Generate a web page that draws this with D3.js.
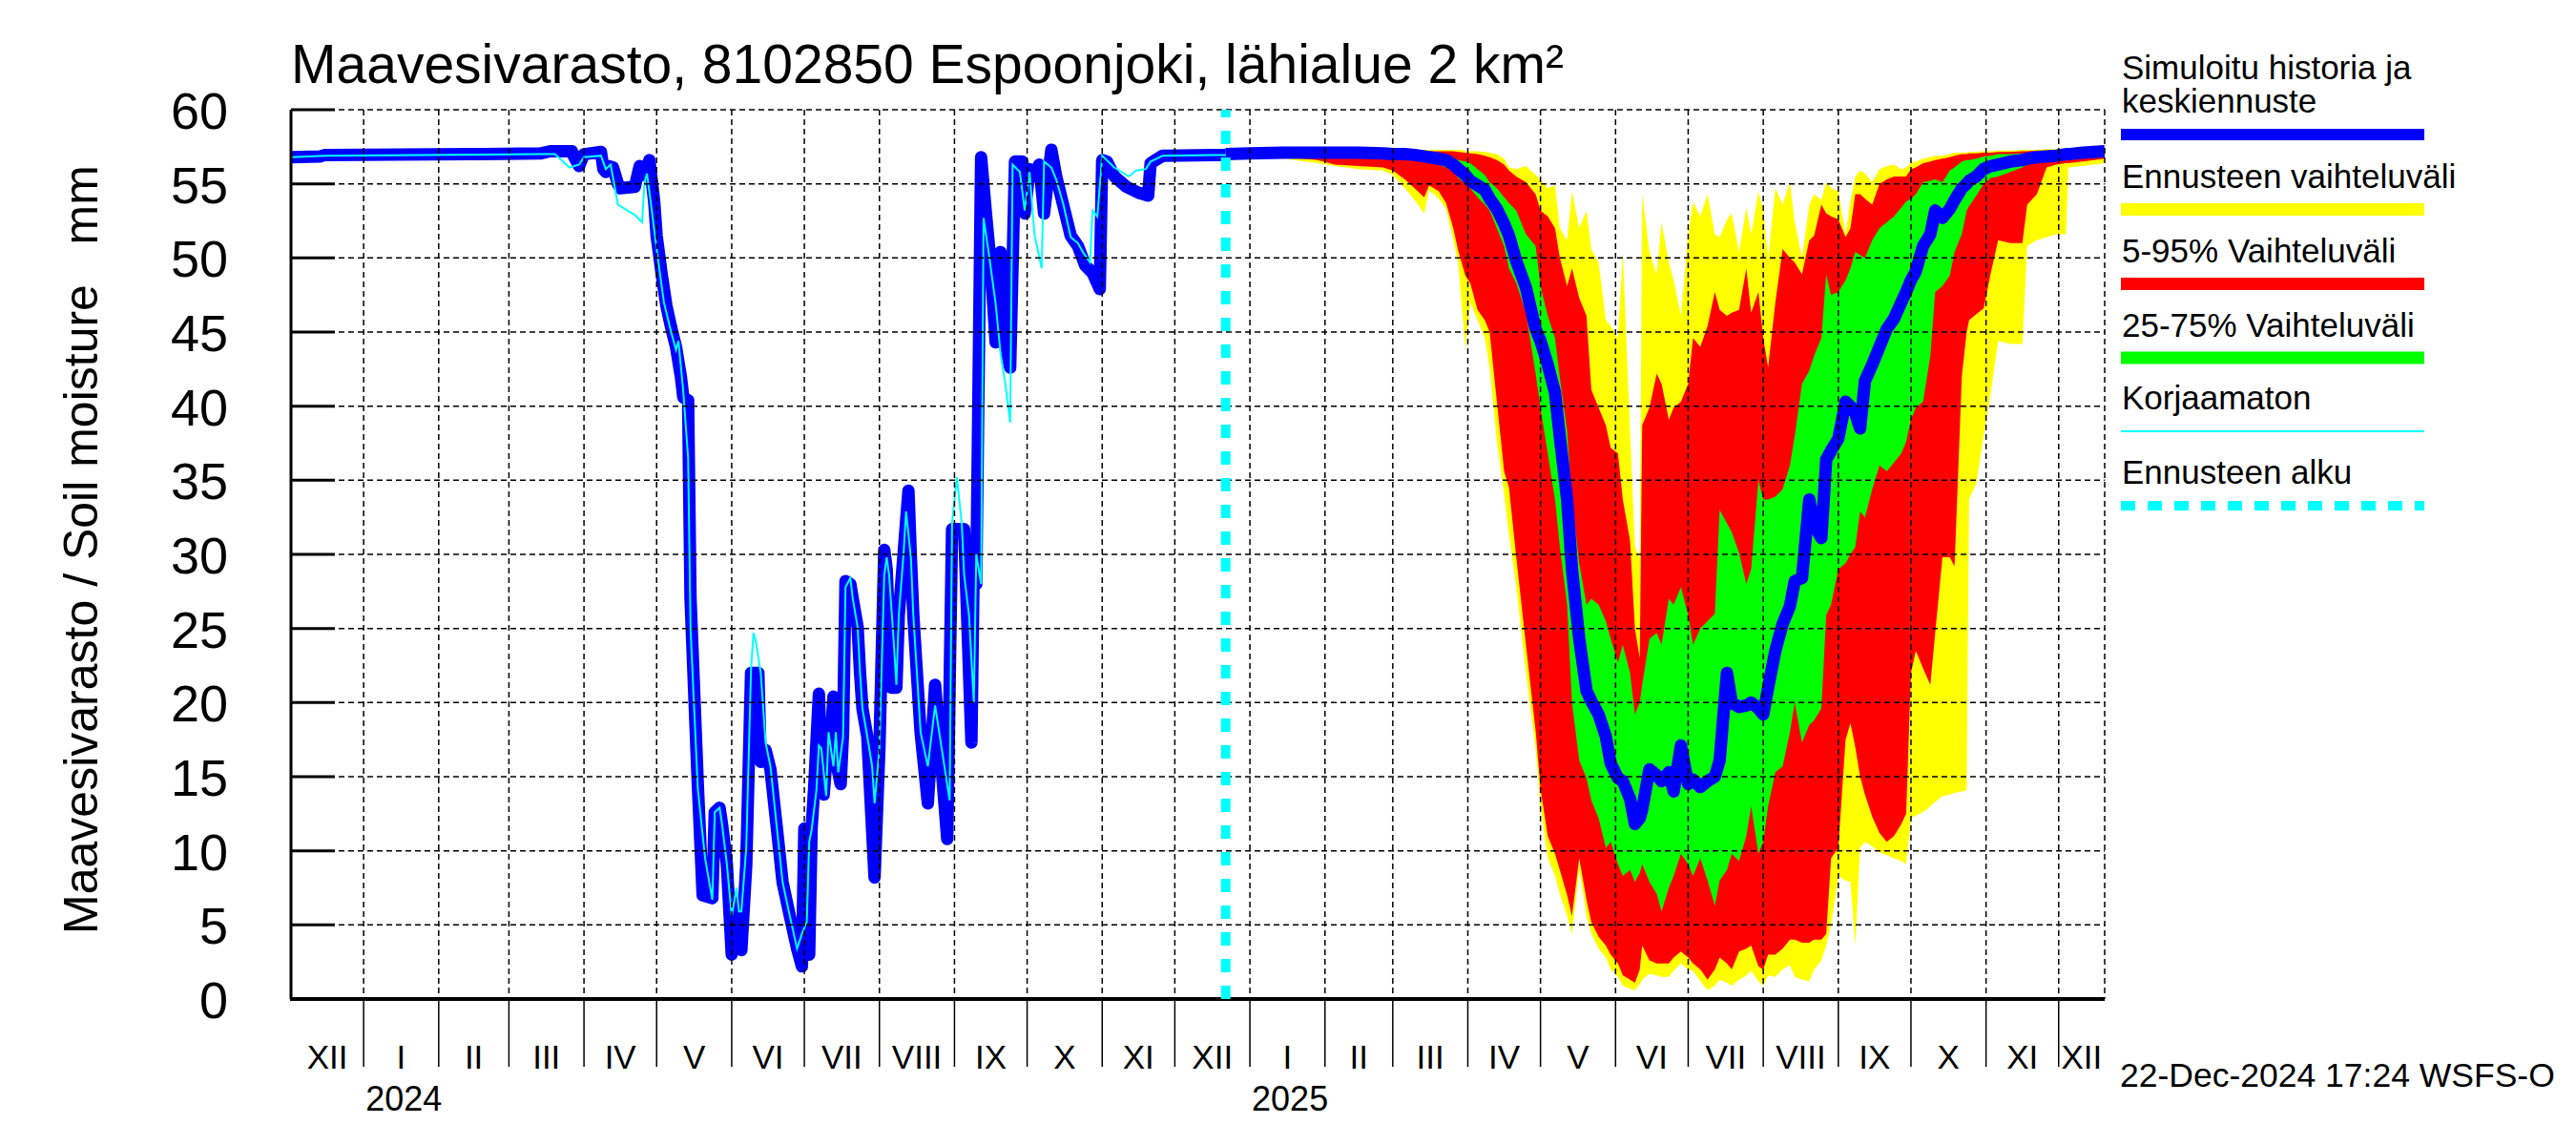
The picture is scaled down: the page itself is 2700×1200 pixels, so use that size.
<!DOCTYPE html>
<html>
<head>
<meta charset="utf-8">
<script src="https://cdn.jsdelivr.net/npm/d3@7"></script>
<style>
  html, body { margin: 0; padding: 0; background: #fff; }
  svg { display: block; }
  text { font-family: "Liberation Sans", Arial, Helvetica, sans-serif; fill: #000; }
</style>
</head>
<body>
<svg id="chart" width="2700" height="1200"></svg>
<script>
// simulated history (thick blue), date / mm
var simHistory = [
  ["2023-12-02", 56.8], ["2023-12-14", 56.85], ["2023-12-16", 56.95], ["2024-02-14", 57.0],
  ["2024-03-14", 57.05], ["2024-03-18", 57.2], ["2024-03-27", 57.2], ["2024-03-28", 56.8],
  ["2024-03-30", 56.2], ["2024-04-01", 57.0], ["2024-04-08", 57.15], ["2024-04-09", 56.0],
  ["2024-04-10", 55.8], ["2024-04-11", 56.2], ["2024-04-13", 56.1], ["2024-04-15", 55.0],
  ["2024-04-16", 54.7], ["2024-04-22", 54.8], ["2024-04-24", 56.2], ["2024-04-26", 55.6],
  ["2024-04-28", 56.6], ["2024-04-30", 53.8], ["2024-05-01", 51.5], ["2024-05-03", 49.0],
  ["2024-05-05", 46.8], ["2024-05-07", 45.3], ["2024-05-09", 44.0], ["2024-05-11", 42.0],
  ["2024-05-12", 40.6], ["2024-05-14", 40.4], ["2024-05-15", 27.0], ["2024-05-18", 14.5],
  ["2024-05-20", 7.0], ["2024-05-24", 6.8], ["2024-05-25", 12.6], ["2024-05-27", 12.9],
  ["2024-05-28", 11.8], ["2024-05-30", 9.1], ["2024-06-01", 3.0], ["2024-06-03", 6.5],
  ["2024-06-04", 4.8], ["2024-06-05", 3.3], ["2024-06-07", 9.0], ["2024-06-09", 22.0],
  ["2024-06-12", 22.0], ["2024-06-13", 16.0], ["2024-06-15", 16.8], ["2024-06-17", 15.5],
  ["2024-06-20", 11.0], ["2024-06-22", 7.9], ["2024-06-25", 5.6], ["2024-06-28", 3.4],
  ["2024-06-30", 2.2], ["2024-07-01", 11.5], ["2024-07-03", 3.0], ["2024-07-04", 11.5],
  ["2024-07-05", 14.1], ["2024-07-07", 20.6], ["2024-07-08", 16.0], ["2024-07-09", 13.8],
  ["2024-07-11", 18.0], ["2024-07-12", 17.5], ["2024-07-13", 20.4], ["2024-07-14", 16.5],
  ["2024-07-15", 15.3], ["2024-07-16", 14.5], ["2024-07-17", 18.0], ["2024-07-18", 28.2],
  ["2024-07-20", 28.0], ["2024-07-21", 27.0], ["2024-07-23", 25.1], ["2024-07-24", 22.0],
  ["2024-07-25", 19.6], ["2024-07-27", 17.7], ["2024-07-28", 14.5], ["2024-07-30", 8.2],
  ["2024-08-01", 16.9], ["2024-08-03", 30.3], ["2024-08-04", 29.0], ["2024-08-06", 21.0],
  ["2024-08-08", 21.0], ["2024-08-09", 25.9], ["2024-08-11", 30.1], ["2024-08-13", 34.3],
  ["2024-08-14", 29.8], ["2024-08-15", 25.9], ["2024-08-18", 18.0], ["2024-08-21", 13.2],
  ["2024-08-24", 21.2], ["2024-08-29", 10.8], ["2024-08-31", 31.7], ["2024-09-05", 31.7],
  ["2024-09-08", 17.3], ["2024-09-09", 30.0], ["2024-09-10", 28.0], ["2024-09-12", 56.8],
  ["2024-09-14", 53.0], ["2024-09-16", 49.5], ["2024-09-18", 44.3], ["2024-09-20", 50.4],
  ["2024-09-22", 44.0], ["2024-09-24", 42.6], ["2024-09-26", 56.5], ["2024-09-29", 56.5],
  ["2024-09-30", 53.0], ["2024-10-02", 56.0], ["2024-10-04", 55.5], ["2024-10-06", 56.3],
  ["2024-10-08", 53.0], ["2024-10-11", 57.3], ["2024-10-13", 55.5], ["2024-10-16", 53.5],
  ["2024-10-19", 51.5], ["2024-10-22", 50.8], ["2024-10-25", 49.5], ["2024-10-28", 49.0],
  ["2024-10-31", 47.9], ["2024-11-01", 56.6], ["2024-11-03", 56.5], ["2024-11-06", 55.5],
  ["2024-11-11", 54.8], ["2024-11-16", 54.4], ["2024-11-20", 54.2], ["2024-11-21", 56.4],
  ["2024-11-26", 56.9], ["2024-12-22", 56.95]
];

// uncorrected simulation (thin cyan)
var uncorrected = [
  ["2023-12-02", 56.8], ["2023-12-16", 56.9], ["2024-03-14", 57.0], ["2024-03-20", 57.0],
  ["2024-03-26", 56.1], ["2024-03-30", 56.3], ["2024-04-01", 56.8], ["2024-04-08", 56.9],
  ["2024-04-10", 56.0], ["2024-04-12", 56.3], ["2024-04-15", 53.6], ["2024-04-22", 52.9],
  ["2024-04-25", 52.4], ["2024-04-26", 55.1], ["2024-04-27", 55.7], ["2024-04-29", 53.2],
  ["2024-05-01", 50.6], ["2024-05-04", 47.0], ["2024-05-07", 45.0], ["2024-05-09", 43.8],
  ["2024-05-10", 44.4], ["2024-05-12", 41.0], ["2024-05-14", 36.5], ["2024-05-15", 25.0],
  ["2024-05-18", 14.2], ["2024-05-21", 9.5], ["2024-05-24", 6.7], ["2024-05-25", 12.6],
  ["2024-05-27", 12.9], ["2024-05-28", 11.8], ["2024-05-30", 9.1], ["2024-06-01", 5.6],
  ["2024-06-03", 7.5], ["2024-06-04", 5.9], ["2024-06-05", 5.9], ["2024-06-07", 10.2],
  ["2024-06-09", 22.3], ["2024-06-10", 24.7], ["2024-06-11", 24.1], ["2024-06-13", 22.0],
  ["2024-06-15", 17.3], ["2024-06-17", 15.7], ["2024-06-20", 11.0], ["2024-06-22", 7.9],
  ["2024-06-25", 5.6], ["2024-06-28", 3.4], ["2024-06-30", 4.4], ["2024-07-02", 5.2],
  ["2024-07-03", 10.6], ["2024-07-04", 11.4], ["2024-07-06", 14.1], ["2024-07-07", 17.1],
  ["2024-07-08", 16.9], ["2024-07-10", 13.7], ["2024-07-11", 18.0], ["2024-07-13", 15.7],
  ["2024-07-14", 18.0], ["2024-07-15", 15.3], ["2024-07-17", 17.7], ["2024-07-18", 27.8],
  ["2024-07-20", 28.4], ["2024-07-21", 27.0], ["2024-07-23", 25.1], ["2024-07-24", 22.0],
  ["2024-07-25", 19.6], ["2024-07-27", 17.7], ["2024-07-29", 15.7], ["2024-07-30", 13.2],
  ["2024-08-01", 16.9], ["2024-08-03", 28.6], ["2024-08-04", 29.8], ["2024-08-05", 28.6],
  ["2024-08-07", 23.9], ["2024-08-08", 21.2], ["2024-08-09", 25.9], ["2024-08-11", 30.1],
  ["2024-08-12", 32.9], ["2024-08-14", 29.8], ["2024-08-15", 25.9], ["2024-08-18", 18.0],
  ["2024-08-21", 15.7], ["2024-08-24", 19.8], ["2024-08-30", 13.4], ["2024-08-31", 32.1],
  ["2024-09-02", 35.2], ["2024-09-04", 32.1], ["2024-09-05", 28.6], ["2024-09-07", 25.9],
  ["2024-09-09", 20.0], ["2024-09-10", 30.0], ["2024-09-12", 28.0], ["2024-09-13", 52.7],
  ["2024-09-15", 50.5], ["2024-09-16", 49.3], ["2024-09-18", 46.9], ["2024-09-20", 43.6],
  ["2024-09-22", 41.5], ["2024-09-24", 38.9], ["2024-09-25", 56.3], ["2024-09-28", 55.8],
  ["2024-09-30", 53.2], ["2024-10-02", 55.8], ["2024-10-04", 51.6], ["2024-10-07", 49.3],
  ["2024-10-08", 56.5], ["2024-10-11", 56.1], ["2024-10-13", 55.3], ["2024-10-16", 53.6],
  ["2024-10-19", 51.4], ["2024-10-22", 51.0], ["2024-10-24", 50.4], ["2024-10-27", 49.7],
  ["2024-10-28", 53.2], ["2024-10-30", 52.8], ["2024-11-01", 56.9], ["2024-11-06", 56.1],
  ["2024-11-12", 55.5], ["2024-11-15", 55.9], ["2024-11-19", 56.0], ["2024-11-21", 56.5],
  ["2024-11-26", 56.9], ["2024-12-22", 56.95]
];

// forecast dates and distribution of the ensemble
var fcDates = [
  "2024-12-22", "2025-01-01", "2025-01-15", "2025-01-29", "2025-02-05", "2025-02-15", "2025-02-25",
  "2025-03-01", "2025-03-06", "2025-03-10", "2025-03-14", "2025-03-16", "2025-03-20", "2025-03-23",
  "2025-03-26", "2025-03-28", "2025-03-31", "2025-04-02", "2025-04-05", "2025-04-08", "2025-04-10",
  "2025-04-13", "2025-04-16", "2025-04-18", "2025-04-21", "2025-04-25", "2025-04-29", "2025-05-01",
  "2025-05-04", "2025-05-07", "2025-05-09", "2025-05-12", "2025-05-14", "2025-05-17", "2025-05-20",
  "2025-05-22", "2025-05-25", "2025-05-28", "2025-05-30", "2025-06-02", "2025-06-04", "2025-06-07",
  "2025-06-09", "2025-06-11", "2025-06-12", "2025-06-15", "2025-06-18", "2025-06-20", "2025-06-23",
  "2025-06-25", "2025-06-28", "2025-07-01", "2025-07-03", "2025-07-06", "2025-07-09", "2025-07-12",
  "2025-07-14", "2025-07-17", "2025-07-19", "2025-07-22", "2025-07-25", "2025-07-27", "2025-07-30",
  "2025-08-01", "2025-08-03", "2025-08-06", "2025-08-09", "2025-08-12", "2025-08-14", "2025-08-17",
  "2025-08-20", "2025-08-22", "2025-08-25", "2025-08-27", "2025-08-29", "2025-09-01", "2025-09-04",
  "2025-09-06", "2025-09-08", "2025-09-10", "2025-09-12", "2025-09-15", "2025-09-18", "2025-09-21",
  "2025-09-24", "2025-09-27", "2025-09-29", "2025-10-01", "2025-10-03", "2025-10-06", "2025-10-09",
  "2025-10-11", "2025-10-14", "2025-10-17", "2025-10-19", "2025-10-22", "2025-10-24", "2025-10-25",
  "2025-10-28", "2025-10-31", "2025-11-03", "2025-11-06", "2025-11-11", "2025-11-16", "2025-11-18",
  "2025-11-22", "2025-11-26", "2025-11-30", "2025-12-04", "2025-12-05", "2025-12-11", "2025-12-20"
];
var fcMax = [
  57.0, 57.2, 57.25, 57.3, 57.3, 57.3, 57.3,
  57.3, 57.3, 57.3, 57.3, 57.3, 57.3, 57.3,
  57.3, 57.3, 57.25, 57.2, 57.2, 57.15, 57.1,
  57.0, 56.7, 56.1, 56.0, 56.2, 55.6, 55.3,
  54.7, 54.9, 52.0, 51.2, 54.5, 52.0, 53.2,
  50.6, 49.7, 45.8, 45.4, 44.6, 50.4, 38.3,
  30.5, 29.8, 54.3, 50.4, 48.9, 52.4, 49.7,
  48.5, 46.1, 51.6, 53.8, 52.8, 54.3, 51.6,
  51.4, 52.6, 53.0, 50.4, 53.4, 51.6, 54.5,
  53.2, 50.0, 54.7, 53.6, 55.1, 52.4, 50.0,
  53.6, 54.3, 53.9, 55.1, 54.7, 54.5, 51.6,
  53.9, 55.5, 55.9, 55.7, 55.1, 56.0, 56.2,
  56.3, 56.0, 56.1, 56.4, 56.5, 56.7, 56.8,
  56.9, 56.9, 57.0, 57.1, 57.1, 57.1, 57.15,
  57.15, 57.2, 57.2, 57.25, 57.25, 57.3, 57.3,
  57.3, 57.35, 57.35, 57.4, 57.4, 57.45, 57.5
];
var fcP95 = [
  57.0, 57.15, 57.2, 57.2, 57.2, 57.2, 57.2,
  57.2, 57.2, 57.2, 57.2, 57.2, 57.2, 57.2,
  57.2, 57.15, 57.1, 57.05, 57.0, 56.9, 56.8,
  56.6, 56.3, 55.9, 55.5, 55.1, 54.3, 53.2,
  52.8, 52.0, 50.0, 48.1, 49.3, 47.3, 46.1,
  41.1, 39.9, 38.7, 37.2, 36.8, 33.7, 30.9,
  25.0, 23.0, 38.7, 39.9, 42.2, 41.5, 39.1,
  39.9, 40.3, 41.5, 44.6, 44.0, 45.4, 47.7,
  46.5, 46.1, 46.3, 46.5, 49.3, 46.3, 47.7,
  44.6, 42.6, 47.0, 50.6, 50.0, 49.7, 48.9,
  51.2, 51.5, 53.6, 53.0, 52.8, 52.6, 51.4,
  52.0, 54.3, 54.3, 54.0, 53.6, 55.0, 55.3,
  55.5, 55.5, 55.5, 56.0, 56.1, 56.4, 56.5,
  56.6, 56.7, 56.8, 56.9, 57.0, 57.0, 57.05,
  57.05, 57.1, 57.1, 57.15, 57.15, 57.2, 57.2,
  57.25, 57.25, 57.3, 57.3, 57.3, 57.35, 57.4
];
var fcP75 = [
  57.0, 57.1, 57.1, 57.15, 57.15, 57.1, 57.1,
  57.1, 57.1, 57.05, 57.0, 57.0, 56.95, 56.9,
  56.8, 56.6, 56.5, 56.4, 56.0, 55.6, 55.1,
  54.7, 54.1, 53.7, 53.2, 51.6, 50.8, 48.1,
  46.1, 44.6, 41.9, 38.3, 33.7, 29.4, 26.6,
  27.0, 26.6, 25.5, 24.3, 22.7, 23.9, 22.0,
  19.2, 20.0, 21.2, 24.3, 24.7, 23.9, 27.0,
  26.6, 27.8, 25.9, 23.9, 25.0, 25.5, 26.0,
  33.0, 32.1, 31.5, 30.1, 28.0, 29.0, 35.0,
  33.7, 33.7, 33.9, 34.4, 36.0, 38.0, 41.5,
  42.4, 43.4, 44.6, 48.9, 47.5, 47.7, 48.5,
  49.3, 50.4, 50.2, 50.0, 51.2, 52.0, 52.4,
  52.8, 53.4, 53.8, 54.0, 54.3, 55.1, 55.2,
  55.3, 55.1, 55.9, 56.1, 56.5, 56.6, 56.6,
  56.7, 56.85, 56.9, 57.0, 57.0, 57.05, 57.1,
  57.1, 57.1, 57.15, 57.2, 57.2, 57.25, 57.3
];
var fcMedian = [
  57.0, 57.05, 57.1, 57.1, 57.1, 57.1, 57.05,
  57.0, 57.0, 56.95, 56.85, 56.8, 56.7, 56.6,
  56.3, 56.0, 55.6, 55.2, 54.9, 54.6, 54.0,
  53.3, 52.3, 51.5, 49.8, 48.0, 45.2, 44.4,
  42.8, 40.9, 37.9, 33.7, 29.0, 24.3, 20.8,
  20.1, 19.2, 17.7, 15.9, 14.9, 14.7, 13.5,
  11.8, 12.2, 12.8, 15.5, 15.1, 14.7, 15.3,
  14.0, 17.1, 14.5, 14.8, 14.3, 14.7, 15.0,
  16.1, 22.0, 20.0, 19.7, 19.8, 20.0, 19.6,
  19.2, 21.0, 23.5, 25.3, 26.5, 28.2, 28.4,
  33.7, 32.0, 31.1, 36.4, 37.0, 37.8, 40.3,
  40.0, 39.5, 38.5, 41.7, 42.8, 44.0, 45.2,
  45.9, 47.0, 47.7, 48.5, 49.1, 50.8, 51.6,
  53.2, 52.7, 53.3, 53.9, 54.7, 55.0, 55.2,
  55.5, 56.0, 56.2, 56.3, 56.5, 56.6, 56.7,
  56.8, 56.85, 56.9, 57.0, 57.0, 57.1, 57.2
];
var fcP25 = [
  57.0, 57.0, 57.0, 57.0, 57.0, 56.95, 56.9,
  56.85, 56.75, 56.6, 56.5, 56.45, 56.3, 56.1,
  55.8, 55.4, 55.0, 54.7, 54.1, 53.6, 53.2,
  52.0, 50.8, 49.3, 48.3, 46.3, 42.2, 39.9,
  36.8, 33.7, 30.5, 26.6, 20.0, 16.1, 14.9,
  13.4, 12.2, 10.2, 10.6, 9.1, 8.3, 8.7,
  7.9, 8.5, 9.1, 7.9, 7.1, 5.9, 7.5,
  8.3, 9.8, 9.1, 8.3, 9.5, 8.0, 6.3,
  8.0, 8.7, 9.8, 9.3, 11.0, 13.0, 9.8,
  10.6, 13.0, 15.3, 15.7, 18.0, 20.0, 17.3,
  18.5, 18.8, 19.6, 25.9, 26.6, 29.0, 29.4,
  30.0, 30.5, 32.9, 32.5, 34.4, 36.0, 35.6,
  36.2, 36.8, 37.6, 39.1, 39.9, 40.3, 43.4,
  47.7, 48.1, 48.8, 50.4, 51.6, 53.2, 53.5,
  54.2, 55.0, 55.4, 55.5, 55.8, 56.1, 56.3,
  56.5, 56.6, 56.7, 56.8, 56.8, 56.9, 57.0
];
var fcP05 = [
  57.0, 56.9, 56.8, 56.6, 56.3, 56.2, 56.1,
  55.9, 55.3, 54.7, 54.1, 54.9, 54.5, 53.7,
  52.0, 50.5, 48.8, 48.3, 46.5, 45.8, 45.0,
  40.3, 35.6, 34.5, 29.8, 23.9, 18.1, 14.2,
  11.0, 9.8, 8.7, 7.0, 5.6, 9.5, 6.7,
  5.2, 4.2, 3.6, 3.0, 2.4, 1.6, 1.3,
  1.1, 2.0, 3.6, 2.6, 2.4, 2.4, 2.4,
  2.8, 3.2, 2.8, 2.4, 2.0, 1.3, 2.0,
  2.8, 2.4, 2.0, 3.2, 3.4, 3.6, 2.2,
  2.0, 3.0, 3.0, 3.4, 4.0, 4.0, 3.8,
  3.8, 4.0, 4.0, 4.4, 9.5, 10.2, 17.5,
  18.6, 17.0, 15.0, 13.8, 12.3, 11.2, 10.6,
  11.0, 11.8, 12.5, 22.0, 23.5, 22.3, 21.2,
  24.7, 29.8, 29.8, 29.2, 42.0, 45.0, 45.8,
  46.2, 46.6, 49.0, 51.2, 51.0, 51.0, 53.6,
  54.3, 56.1, 56.3, 56.4, 56.4, 56.5, 56.7
];
var fcMin = [
  57.0, 56.85, 56.7, 56.4, 56.2, 56.0, 55.9,
  55.6, 54.7, 53.9, 53.0, 54.6, 54.0, 53.3,
  51.2, 49.7, 43.8, 47.0, 45.8, 44.6, 42.6,
  37.6, 34.0, 31.3, 27.8, 22.0, 16.9, 13.0,
  9.5, 8.3, 7.1, 5.6, 4.4, 8.7, 5.6,
  4.4, 3.4, 2.8, 2.0, 1.5, 0.9, 0.7,
  0.6, 1.0, 1.3, 1.7, 1.6, 1.5, 1.5,
  1.9, 2.4, 2.0, 1.9, 1.2, 0.6, 0.9,
  1.3, 1.1, 0.9, 1.3, 1.6, 1.9, 1.2,
  0.9, 1.6, 1.5, 2.0, 2.3, 1.5, 1.3,
  1.2, 2.0, 2.6, 3.6, 5.0, 8.3, 8.0,
  7.9, 3.6, 10.2, 10.6, 10.3, 9.9, 9.7,
  9.5, 9.3, 9.1, 12.2, 12.4, 12.6, 13.0,
  13.3, 13.7, 13.8, 13.9, 14.0, 14.1, 33.7,
  34.8, 38.0, 41.0, 44.4, 44.2, 44.2, 50.8,
  51.2, 51.4, 51.6, 51.6, 56.1, 56.2, 56.4
];

var forecastStart = "2024-12-22";
var yTicks = [0, 5, 10, 15, 20, 25, 30, 35, 40, 45, 50, 55, 60];
var monthNames = ["I", "II", "III", "IV", "V", "VI", "VII", "VIII", "IX", "X", "XI", "XII"];
var legendLabels = [
  ["Simuloitu historia ja", "keskiennuste"],
  ["Ennusteen vaihteluväli"],
  ["5-95% Vaihteluväli"],
  ["25-75% Vaihteluväli"],
  ["Korjaamaton"],
  ["Ennusteen alku"]
];
var titleText = "Maavesivarasto, 8102850 Espoonjoki, lähialue 2 km²";
var yTitle = "Maavesivarasto / Soil moisture   mm";
var stamp = "22-Dec-2024 17:24 WSFS-O";

// ---------------------------------------------------------------
var W = 2700, H = 1200;
var plotLeft = 305, plotRight = 2206, plotTop = 115, plotBottom = 1047;

var parseDate = d3.utcParse("%Y-%m-%d");
var x = d3.scaleUtc()
    .domain([parseDate("2023-12-02"), parseDate("2025-12-20")])
    .range([plotLeft, plotRight]);
var y = d3.scaleLinear().domain([0, 60]).range([plotBottom, plotTop]);

var hist = simHistory.map(function(d) { return {date: parseDate(d[0]), value: d[1]}; });
var corr = uncorrected.map(function(d) { return {date: parseDate(d[0]), value: d[1]}; });
var fc = fcDates.map(function(d, i) {
  return {date: parseDate(d), max: fcMax[i], p95: fcP95[i], p75: fcP75[i],
          med: fcMedian[i], p25: fcP25[i], p05: fcP05[i], min: fcMin[i]};
});

var svg = d3.select("#chart");
svg.append("rect").attr("width", W).attr("height", H).attr("fill", "#fff");

svg.append("defs").append("clipPath").attr("id", "plotclip")
  .append("rect").attr("x", plotLeft).attr("y", plotTop - 2)
  .attr("width", plotRight - plotLeft).attr("height", plotBottom - plotTop + 2);

var plot = svg.append("g").attr("clip-path", "url(#plotclip)");

var band = function(lo, hi) {
  return d3.area()
    .x(function(d) { return x(d.date); })
    .y0(function(d) { return y(d[lo]); })
    .y1(function(d) { return y(d[hi]); });
};
var line = function(key) {
  return d3.line()
    .x(function(d) { return x(d.date); })
    .y(function(d) { return y(d[key]); });
};

plot.append("path").datum(fc).attr("d", band("min", "max")).attr("fill", "#ffff00");
plot.append("path").datum(fc).attr("d", band("p05", "p95")).attr("fill", "#ff0000");
plot.append("path").datum(fc).attr("d", band("p25", "p75")).attr("fill", "#00ff00");

plot.append("path").datum(fc).attr("d", line("med"))
    .attr("fill", "none").attr("stroke", "#0000ff").attr("stroke-width", 13)
    .attr("stroke-linejoin", "round");
plot.append("path").datum(hist).attr("d", line("value"))
    .attr("fill", "none").attr("stroke", "#0000ff").attr("stroke-width", 13)
    .attr("stroke-linejoin", "round");
plot.append("path").datum(corr).attr("d", line("value"))
    .attr("fill", "none").attr("stroke", "#00ffff").attr("stroke-width", 2);

// grid
var grid = svg.append("g")
    .attr("stroke", "#000").attr("stroke-width", 1.5).attr("stroke-dasharray", "6,4");
var months = d3.utcMonth.range(d3.utcMonth.ceil(x.domain()[0]), x.domain()[1]);
grid.selectAll("line.v").data(months).enter().append("line")
    .attr("x1", function(d) { return x(d); }).attr("x2", function(d) { return x(d); })
    .attr("y1", plotTop).attr("y2", plotBottom);
grid.append("line").attr("x1", plotRight).attr("x2", plotRight)
    .attr("y1", plotTop).attr("y2", plotBottom);
grid.selectAll("line.h").data(yTicks.filter(function(v) { return v > 0; })).enter().append("line")
    .attr("x1", plotLeft).attr("x2", plotRight)
    .attr("y1", function(d) { return y(d); }).attr("y2", function(d) { return y(d); });

// axes
svg.append("line").attr("x1", plotLeft).attr("x2", plotLeft)
    .attr("y1", plotTop).attr("y2", plotBottom)
    .attr("stroke", "#000").attr("stroke-width", 3);
svg.append("line").attr("x1", plotLeft - 1).attr("x2", plotRight)
    .attr("y1", plotBottom).attr("y2", plotBottom)
    .attr("stroke", "#000").attr("stroke-width", 4);

svg.selectAll("line.ytick").data(yTicks).enter().append("line")
    .attr("x1", plotLeft).attr("x2", plotLeft + 46)
    .attr("y1", function(d) { return y(d); }).attr("y2", function(d) { return y(d); })
    .attr("stroke", "#000").attr("stroke-width", 3);
svg.selectAll("text.ylab").data(yTicks).enter().append("text")
    .attr("x", 239).attr("y", function(d) { return y(d) + 20; })
    .attr("text-anchor", "end").attr("font-size", 54)
    .text(function(d) { return d; });

svg.selectAll("line.xtick").data(months).enter().append("line")
    .attr("x1", function(d) { return x(d); }).attr("x2", function(d) { return x(d); })
    .attr("y1", plotBottom).attr("y2", 1118)
    .attr("stroke", "#000").attr("stroke-width", 1.5);

var monthStarts = d3.utcMonth.range(d3.utcMonth.floor(x.domain()[0]), x.domain()[1]);
svg.selectAll("text.mlab").data(monthStarts).enter().append("text")
    .attr("x", function(d) {
      var a = Math.max(x(d), plotLeft), b = Math.min(x(d3.utcMonth.offset(d, 1)), plotRight);
      return (a + b) / 2;
    })
    .attr("y", 1120).attr("text-anchor", "middle").attr("font-size", 35)
    .text(function(d) { return monthNames[d.getUTCMonth()]; });

svg.selectAll("text.yearlab").data(months.filter(function(d) { return d.getUTCMonth() === 0; }))
  .enter().append("text")
    .attr("x", function(d) { return x(d) + 2; }).attr("y", 1164)
    .attr("font-size", 36)
    .text(function(d) { return d.getUTCFullYear(); });

// forecast start
var fx = x(parseDate(forecastStart));
svg.append("line").attr("x1", fx).attr("x2", fx).attr("y1", plotBottom).attr("y2", plotTop)
    .attr("stroke", "#00ffff").attr("stroke-width", 10).attr("stroke-dasharray", "14,14");

// texts
svg.append("text").attr("x", 305).attr("y", 87).attr("font-size", 57).text(titleText);
svg.append("text").attr("transform", "translate(102,576) rotate(-90)")
    .attr("text-anchor", "middle").attr("font-size", 50)
    .style("white-space", "pre")
    .text(yTitle);
svg.append("text").attr("x", 2222).attr("y", 1139).attr("font-size", 35.5).text(stamp);

// legend
var legendStyle = [
  {color: "#0000ff", width: 12, dash: null},
  {color: "#ffff00", width: 13, dash: null},
  {color: "#ff0000", width: 13, dash: null},
  {color: "#00ff00", width: 13, dash: null},
  {color: "#00ffff", width: 2, dash: null},
  {color: "#00ffff", width: 10, dash: "15,13"}
];
var legendTop = [83, 197, 275, 353, 429, 507];
var legendLine = [141, 219.5, 297.5, 375, 452, 530];
legendLabels.forEach(function(lines, i) {
  lines.forEach(function(t, j) {
    svg.append("text").attr("x", 2224).attr("y", legendTop[i] + j * 35)
        .attr("font-size", 35).text(t);
  });
  var st = legendStyle[i];
  var l = svg.append("line").attr("x1", 2223).attr("x2", 2541)
      .attr("y1", legendLine[i]).attr("y2", legendLine[i])
      .attr("stroke", st.color).attr("stroke-width", st.width);
  if (st.dash) l.attr("stroke-dasharray", st.dash);
});
</script>
</body>
</html>
